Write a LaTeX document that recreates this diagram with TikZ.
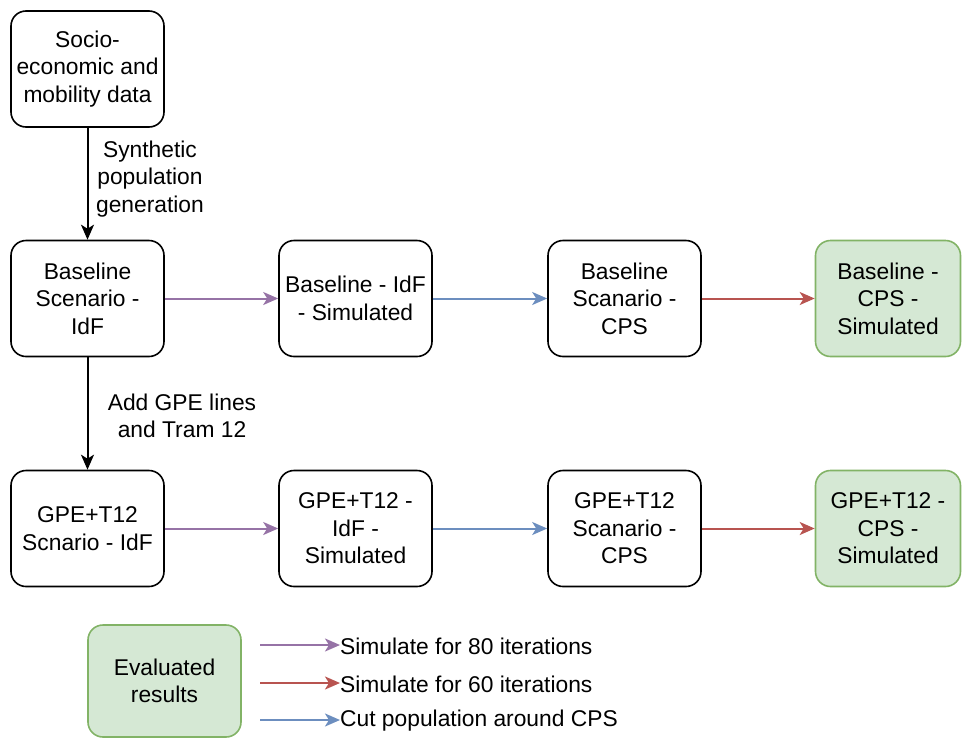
\documentclass[tikz,border=0pt]{standalone}
\usepackage{fontspec}
\setmainfont{Liberation Sans}
\usetikzlibrary{arrows.meta}
\definecolor{simpurple}{HTML}{9673A6}
\definecolor{simred}{HTML}{B85450}
\definecolor{cutblue}{HTML}{6C8EBF}
\definecolor{resfill}{HTML}{D5E8D4}
\definecolor{resline}{HTML}{82B366}
\newcommand{\boxfont}{\fontsize{22.8}{27.6}\selectfont}
\begin{document}
\begin{tikzpicture}[x=1pt,y=-1pt,
    stagebox/.style={draw,line width=1.6pt,rounded corners=15pt,minimum width=153pt,
        minimum height=116pt,inner sep=0pt,align=center,font=\boxfont},
    resultbox/.style={stagebox,draw=resline,fill=resfill},
    lbl/.style={inner sep=0pt,align=center,font=\boxfont},
    flow/.style={line width=2pt,-{Stealth[length=15pt,width=13pt,inset=4pt]}}]
    \useasboundingbox (0,0) rectangle (962,737);
    % input data
    \node[stagebox] (data) at (87.5,69) {Socio-\\economic and\\mobility data};
    % baseline row
    \node[stagebox] (baseidf) at (87.5,298.5) {Baseline\\Scenario -\\IdF};
    \node[stagebox] (basesim) at (355.5,298.5) {Baseline - IdF\\- Simulated};
    \node[stagebox] (basecps) at (624.5,298.5) {Baseline\\Scanario -\\CPS};
    \node[resultbox,minimum width=145pt] (baseres) at (888,298.5) {Baseline -\\CPS -\\Simulated};
    % GPE+T12 row
    \node[stagebox] (gpeidf) at (87.5,528.5) {GPE+T12\\Scnario - IdF};
    \node[stagebox] (gpesim) at (355.5,528.5) {GPE+T12 -\\IdF -\\Simulated};
    \node[stagebox] (gpecps) at (624.5,528.5) {GPE+T12\\Scanario -\\CPS};
    \node[resultbox,minimum width=145pt] (gperes) at (888,528.5) {GPE+T12 -\\CPS -\\Simulated};
    % vertical steps
    \draw[flow] (data) -- (baseidf);
    \node[lbl] (synth) at (150,179) {Synthetic\\population\\generation};
    \draw[flow] (baseidf) -- (gpeidf);
    \node[lbl] (addgpe) at (182,416) {Add GPE lines\\and Tram 12};
    % horizontal steps
    \draw[flow,simpurple] (baseidf) -- (basesim);
    \draw[flow,cutblue] (basesim) -- (basecps);
    \draw[flow,simred] (basecps) -- (baseres);
    \draw[flow,simpurple] (gpeidf) -- (gpesim);
    \draw[flow,cutblue] (gpesim) -- (gpecps);
    \draw[flow,simred] (gpecps) -- (gperes);
    % legend
    \node[resultbox,minimum height=112pt] (legres) at (164.5,681) {Evaluated\\results};
    \coordinate (l1a) at (260,645);
    \coordinate (l2a) at (260,683);
    \coordinate (l3a) at (260,720);
    \node[lbl,anchor=west] (l1) at (340,646) {Simulate for 80 iterations};
    \node[lbl,anchor=west] (l2) at (340,684) {Simulate for 60 iterations};
    \node[lbl,anchor=west] (l3) at (340,721) {Cut population around CPS};
    \draw[flow,simpurple] (l1a) -- (l1a -| l1.west);
    \draw[flow,simred] (l2a) -- (l2a -| l2.west);
    \draw[flow,cutblue] (l3a) -- (l3a -| l3.west);
\end{tikzpicture}
\end{document}
